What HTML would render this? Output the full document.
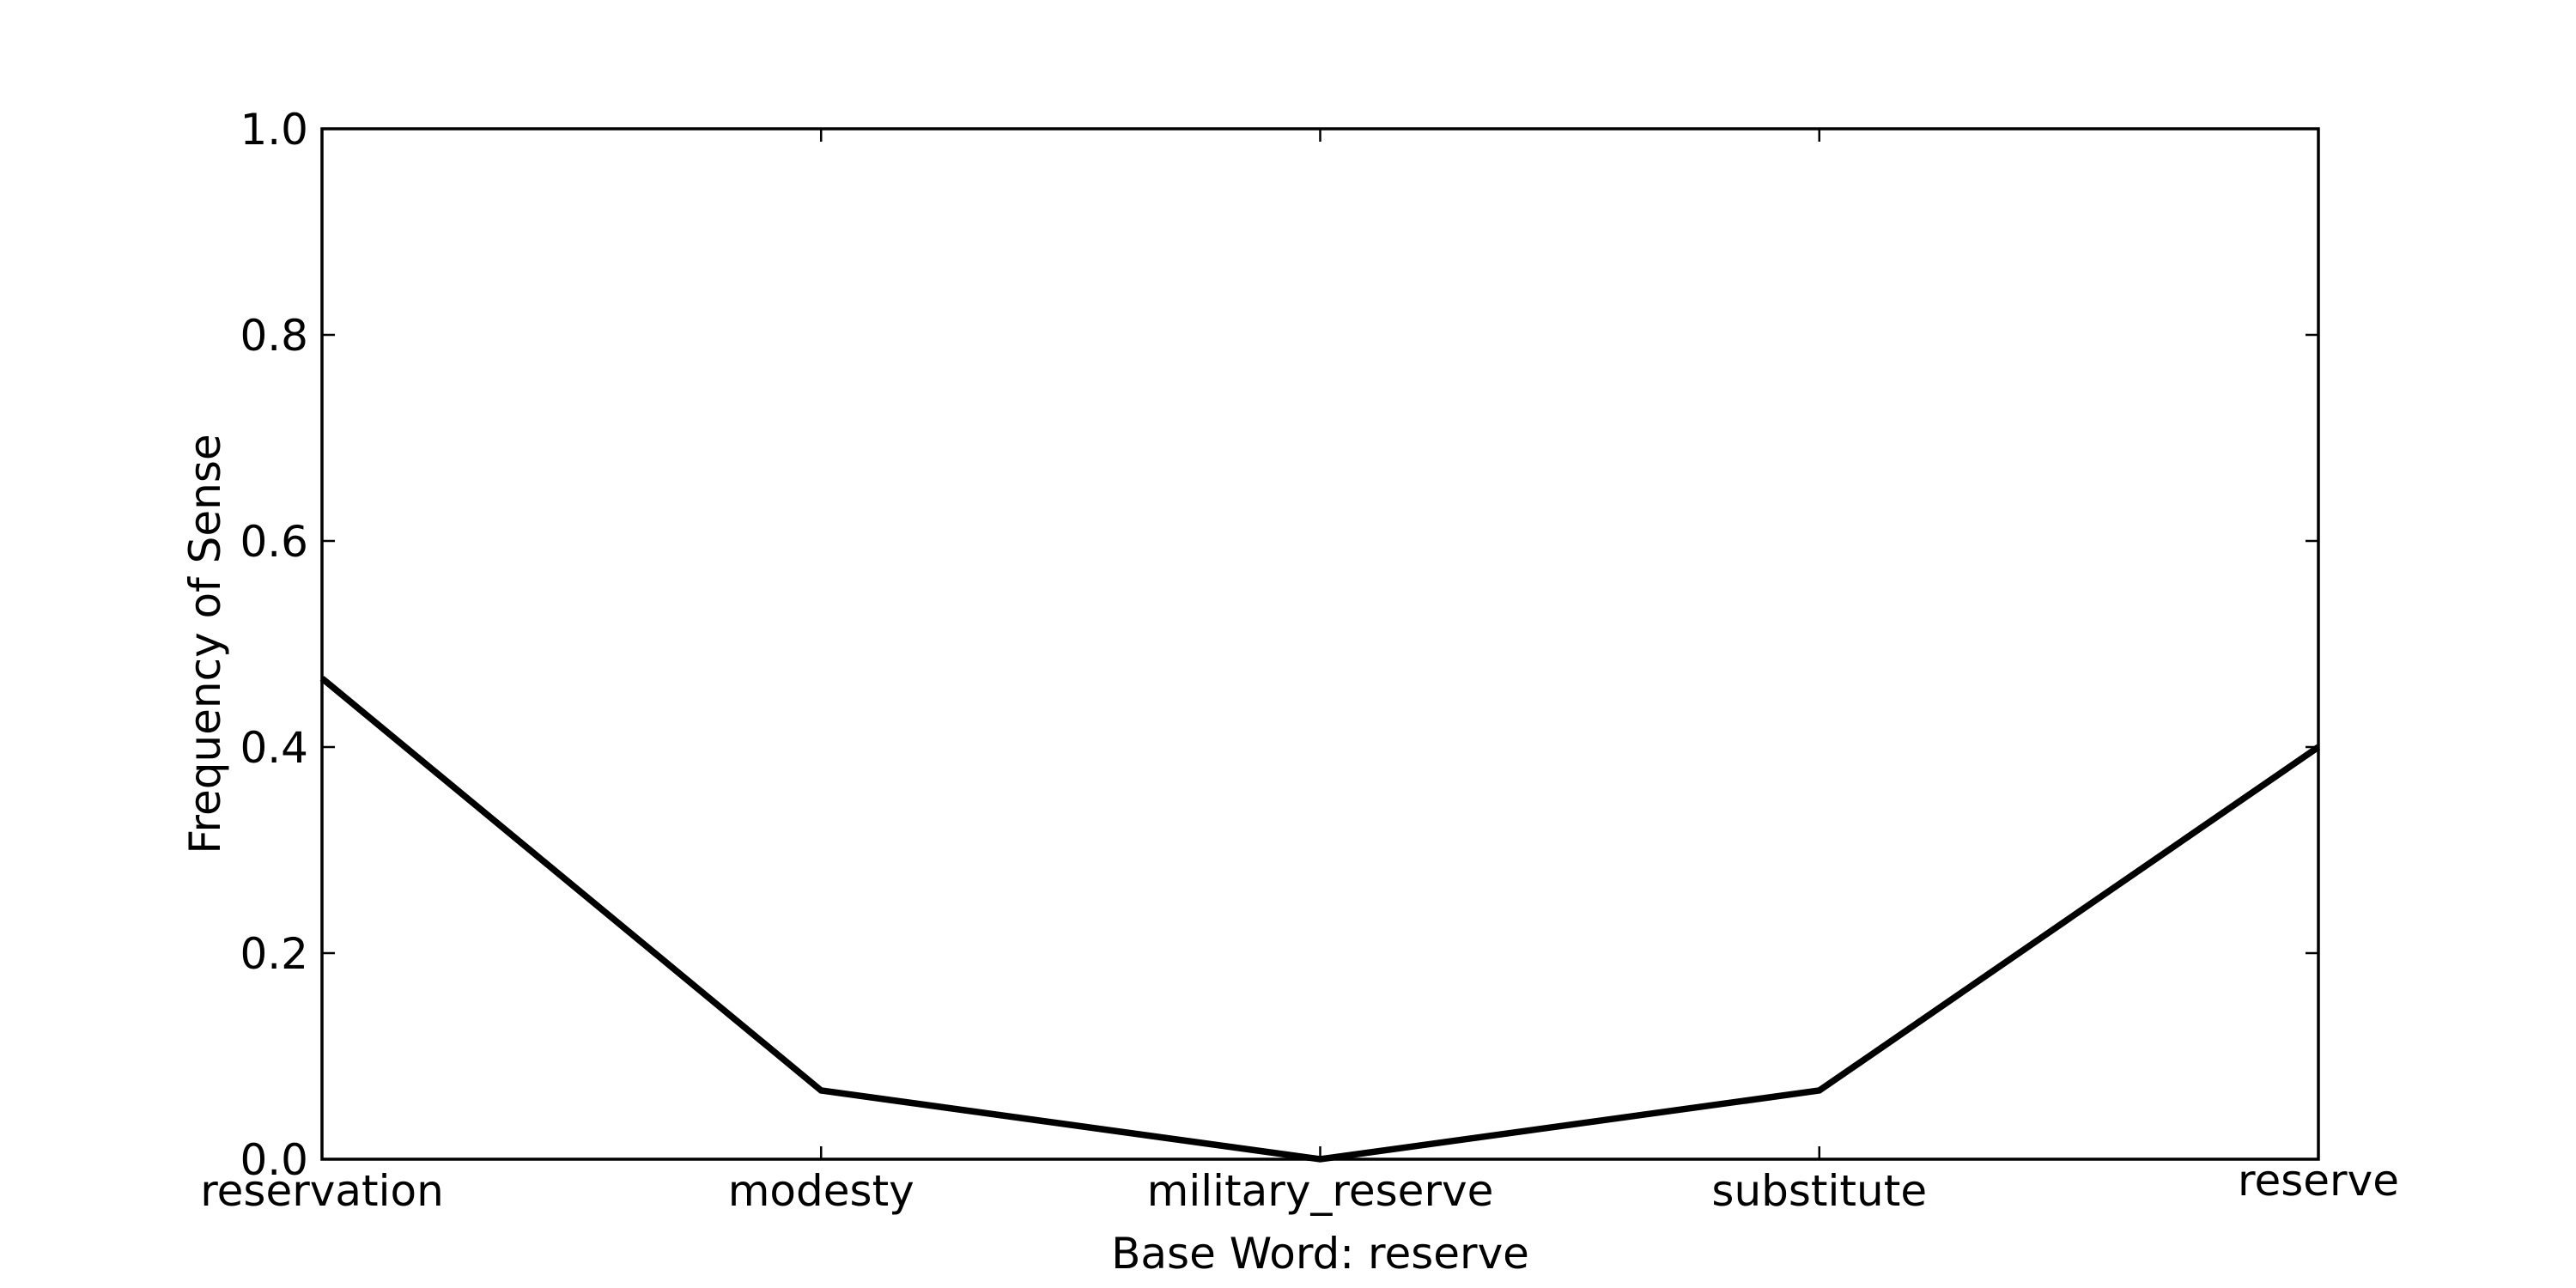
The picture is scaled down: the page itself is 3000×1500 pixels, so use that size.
<!DOCTYPE html>
<html><head><meta charset="utf-8"><style>html,body{margin:0;padding:0;background:#fff}svg{display:block}text{font-family:"DejaVu Sans","Liberation Sans",sans-serif;fill:#000}</style></head>
<body>
<svg id="chart" width="3000" height="1500" xmlns="http://www.w3.org/2000/svg"></svg>
<script>
const categories = ["reservation","modesty","military_reserve","substitute","reserve"];
const values = [0.4667,0.0667,0,0.0667,0.4];
const yTicks = [0,0.2,0.4,0.6,0.8,1.0];
const yTickLabels = ["0.0","0.2","0.4","0.6","0.8","1.0"];

const L=375,R=2700,T=150,B=1350;
const xs=i=>L+(R-L)*i/(categories.length-1);
const ys=v=>B-(B-T)*v;
const svg=document.getElementById('chart');
const NS='http://www.w3.org/2000/svg';
const FS=50;
function mk(tag,attrs,parent){const e=document.createElementNS(NS,tag);for(const k in attrs)e.setAttribute(k,attrs[k]);(parent||svg).appendChild(e);return e;}

const pts=values.map((v,i)=>xs(i)+','+ys(v)).join(' ');
const line=mk('polyline',{points:pts,fill:'none',stroke:'#000','stroke-width':7.5,'stroke-linejoin':'miter'});



const frame=mk('rect',{x:L,y:T,width:R-L,height:B-T,fill:'none',stroke:'#000','stroke-width':3.5});



yTicks.forEach((v,i)=>{
  const y=ys(v);
  const t1=mk('line',{x1:L,x2:L+15,y1:y,y2:y,stroke:'#000','stroke-width':2.5});
  
  
  const t2=mk('line',{x1:R,x2:R-15,y1:y,y2:y,stroke:'#000','stroke-width':2.5});
  
  
  const tx=mk('text',{x:L-16,y:y+18,'font-size':FS,'text-anchor':'end'});
  tx.textContent=yTickLabels[i];
  
  
});
categories.forEach((c,i)=>{
  const x=xs(i);
  const t1=mk('line',{x1:x,x2:x,y1:B,y2:B-15,stroke:'#000','stroke-width':2.5});
  
  
  const t2=mk('line',{x1:x,x2:x,y1:T,y2:T+15,stroke:'#000','stroke-width':2.5});
  
  
  const hasAsc=/[bdfhiklt]/.test(c);
  const tx=mk('text',{x:x,y:hasAsc?1404:1392,'font-size':FS,'text-anchor':'middle'});
  tx.textContent=c;
  
  
});
const xt=mk('text',{x:(L+R)/2,y:1477,'font-size':FS,'text-anchor':'middle'});
xt.textContent='Base Word: reserve';


const yt=mk('text',{x:0,y:0,'font-size':FS,'text-anchor':'middle',transform:'translate(256,'+((T+B)/2)+') rotate(-90)'});
yt.textContent='Frequency of Sense';


</script>
</body></html>
